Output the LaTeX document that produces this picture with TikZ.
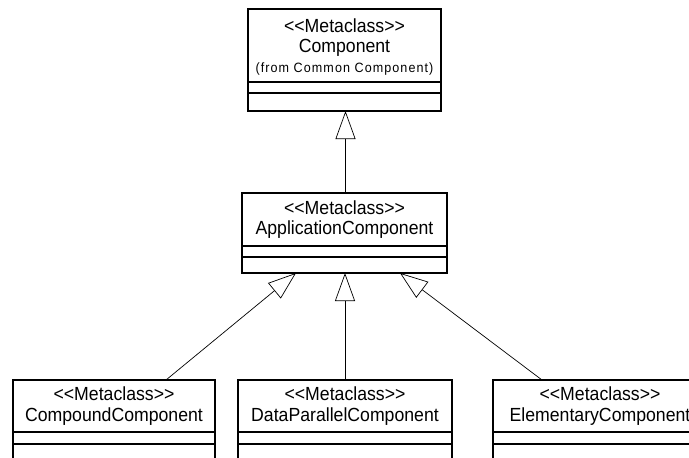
\documentclass[tikz,border=0pt]{standalone}
\usepackage{fontspec}
\setmainfont{Liberation Sans}[FakeStretch=0.93]
\usetikzlibrary{positioning,arrows.meta}

\newcommand{\stereo}[1]{<\kern0pt<#1>\kern0pt>}

\tikzset{
  cls/.style={draw, line width=1.1pt, outer sep=0pt, inner sep=0pt, align=center,
    minimum width=#1, font=\fontsize{19}{20.5}\selectfont},
  gen/.style={-{Triangle[open,length=28pt,width=20pt]}, line width=0.7pt}
}

\begin{document}
\begin{tikzpicture}[x=1pt,y=-1pt]
\useasboundingbox (0,0) rectangle (689,458);
\node [cls=193pt, minimum height=73pt, text depth=-1pt] (comp) at (344.5,45.5)
  {\stereo{Metaclass}\\Component\\[-1pt]{\fontsize{13.5}{16}\selectfont\addfontfeature{LetterSpace=8}(from Common Component)}};
\node [cls=193pt, minimum height=11pt, below=0pt of comp] (compa) {};
\node [cls=193pt, minimum height=18pt, below=0pt of compa] (compo) {};

\node [cls=205pt, minimum height=53pt] (app) at (344.5,219.5)
  {\stereo{Metaclass}\\ApplicationComponent};
\node [cls=205pt, minimum height=11pt, below=0pt of app] (appa) {};
\node [cls=205pt, minimum height=16pt, below=0pt of appa] (appo) {};

\node [cls=202pt, minimum height=52pt] (cpd) at (114,406)
  {\stereo{Metaclass}\\CompoundComponent};
\node [cls=202pt, minimum height=12pt, below=0pt of cpd] (cpda) {};
\node [cls=202pt, minimum height=20pt, below=0pt of cpda] (cpdo) {};

\node [cls=214pt, minimum height=52pt] (dpc) at (345,406)
  {\stereo{Metaclass}\\DataParallelComponent};
\node [cls=214pt, minimum height=12pt, below=0pt of dpc] (dpca) {};
\node [cls=214pt, minimum height=20pt, below=0pt of dpca] (dpco) {};

\node [cls=214pt, minimum height=52pt] (elc) at (600,406)
  {\stereo{Metaclass}\\ElementaryComponent};
\node [cls=214pt, minimum height=12pt, below=0pt of elc] (elca) {};
\node [cls=214pt, minimum height=20pt, below=0pt of elca] (elco) {};

\draw [gen] ([xshift=1pt]app.north) -- ([xshift=1pt]compo.south);
\draw [gen] ([xshift=52pt]cpd.north) -- ([xshift=-48.5pt]appo.south);
\draw [gen] (dpc.north) -- ([xshift=0.5pt]appo.south);
\draw [gen] ([xshift=-58pt]elc.north) -- ([xshift=55.5pt]appo.south);
\end{tikzpicture}
\end{document}
